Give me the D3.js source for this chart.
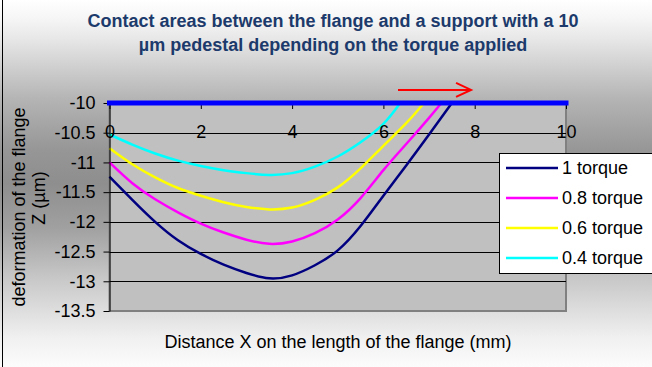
<!DOCTYPE html>
<html>
<head>
<meta charset="utf-8">
<script src="https://cdn.jsdelivr.net/npm/d3@7"></script>
<style>
  body { margin: 0; background: #fff; }
  svg { display: block; }
  text { font-family: "Liberation Sans", Arial, sans-serif; }
</style>
</head>
<body>
<svg id="chart" width="652" height="367"></svg>
<script>
// Axis ticks
const xTicks = [0, 2, 4, 6, 8, 10];
const yTicks = [-10, -10.5, -11, -11.5, -12, -12.5, -13, -13.5];

// Legend labels
const seriesNames = ["1 torque", "0.8 torque", "0.6 torque", "0.4 torque"];

// Deformation profiles, X in mm, Z in µm
const xTorque10 = [0, 0.5, 1, 1.5, 2, 2.5, 3, 3.5, 4, 4.5, 5, 5.5, 6, 6.5, 7, 7.5];
const zTorque10 = [-11.24, -11.63, -12.0, -12.31, -12.54, -12.72, -12.86, -12.95, -12.9, -12.73, -12.48, -12.07, -11.56, -11.05, -10.53, -10.0];

const xTorque08 = [0, 0.5, 1, 1.5, 2, 2.5, 3, 3.5, 4, 4.5, 5, 5.5, 6, 6.5, 7, 7.27];
const zTorque08 = [-11.0, -11.35, -11.62, -11.84, -12.03, -12.18, -12.3, -12.37, -12.33, -12.19, -11.96, -11.6, -11.13, -10.69, -10.25, -10.0];

const xTorque06 = [0, 0.5, 1, 1.5, 2, 2.5, 3, 3.5, 4, 4.5, 5, 5.5, 6, 6.5, 6.89];
const zTorque06 = [-10.76, -11.03, -11.25, -11.43, -11.56, -11.67, -11.75, -11.79, -11.76, -11.63, -11.42, -11.1, -10.72, -10.34, -10.0];

const xTorque04 = [0, 0.5, 1, 1.5, 2, 2.5, 3, 3.5, 4, 4.5, 5, 5.5, 6, 6.37];
const zTorque04 = [-10.53, -10.7, -10.85, -10.97, -11.06, -11.13, -11.18, -11.21, -11.18, -11.07, -10.9, -10.66, -10.35, -10.0];

// Pedestal level
const pedestalX = [0, 10];
const pedestalZ = [-10, -10];

// Direction arrow (data units)
const arrowX = [6.32, 7.92];
const arrowZ = [-9.78, -9.78];

const colors = ["#000080", "#ff00ff", "#ffff00", "#00ffff"];

const series = [
  { name: seriesNames[0], xs: xTorque10, zs: zTorque10, color: colors[0] },
  { name: seriesNames[1], xs: xTorque08, zs: zTorque08, color: colors[1] },
  { name: seriesNames[2], xs: xTorque06, zs: zTorque06, color: colors[2] },
  { name: seriesNames[3], xs: xTorque04, zs: zTorque04, color: colors[3] }
];

const svg = d3.select("#chart");
const W = 652, H = 367;

// Background gradient
const defs = svg.append("defs");
const grad = defs.append("linearGradient")
  .attr("id", "bg").attr("x1", 0).attr("y1", 0).attr("x2", 0).attr("y2", 1);
[[0, "#ffffff"], [0.05, "#f6f6f6"], [0.11, "#e6e6e6"], [0.27, "#b4b4b4"],
 [0.41, "#969696"], [0.5, "#8e8e8e"], [0.62, "#a0a0a0"], [0.76, "#c8c8c8"],
 [0.84, "#dcdcdc"], [0.92, "#f0f0f0"], [1, "#fcfcfc"]]
  .forEach(([o, c]) => grad.append("stop").attr("offset", o).attr("stop-color", c));

svg.append("rect").attr("width", W).attr("height", H).attr("fill", "url(#bg)");
svg.append("line").attr("x1", 2.5).attr("x2", 2.5).attr("y1", 0).attr("y2", H)
  .attr("stroke", "#000").attr("stroke-width", 1);

const x = d3.scaleLinear().domain([0, 10]).range([109.5, 566]);
const y = d3.scaleLinear().domain([-13.5, -10]).range([311, 103]);

// Plot area
svg.append("rect")
  .attr("x", x(0)).attr("y", y(-10))
  .attr("width", x(10) - x(0)).attr("height", y(-13.5) - y(-10))
  .attr("fill", "#c0c0c0").attr("stroke", "#808080").attr("stroke-width", 2);

// Horizontal gridlines
svg.append("g").selectAll("line")
  .data(yTicks.filter(v => v > -13.5 && v < -10))
  .join("line")
  .attr("x1", x(0)).attr("x2", x(10))
  .attr("y1", d => Math.round(y(d)) + 0.5).attr("y2", d => Math.round(y(d)) + 0.5)
  .attr("stroke", "#000").attr("stroke-width", 1);

// Profiles
const line = d3.line()
  .x(d => x(d[0])).y(d => y(d[1]))
  .curve(d3.curveNatural);

svg.append("g").selectAll("path")
  .data(series.slice().reverse())
  .join("path")
  .attr("d", s => line(s.xs.map((v, i) => [v, s.zs[i]])))
  .attr("fill", "none")
  .attr("stroke", s => s.color)
  .attr("stroke-width", 2.5);

// Axes
const fmt = d => String(d);
const yAxis = svg.append("g")
  .attr("transform", `translate(${x(0)},0)`)
  .call(d3.axisLeft(y).tickValues(yTicks).tickFormat(fmt)
    .tickSize(6).tickSizeOuter(0).tickPadding(8));
const xAxis = svg.append("g")
  .attr("transform", `translate(0,${y(-10)})`)
  .call(d3.axisBottom(x).tickValues(xTicks).tickFormat(fmt)
    .tickSize(6).tickSizeOuter(0).tickPadding(16));
xAxis.select(".domain").remove();
[yAxis, xAxis].forEach(g => {
  g.selectAll("text").attr("font-size", 18).attr("font-family", '"Liberation Sans", Arial, sans-serif').attr("fill", "#000");
  g.selectAll("line").attr("stroke", "#000");
  g.select(".domain").attr("stroke", "#000");
});

// Pedestal line
svg.append("path")
  .attr("d", d3.line().x(d => x(d[0])).y(d => y(d[1]))(pedestalX.map((v, i) => [v, pedestalZ[i]])))
  .attr("stroke", "#0000ff").attr("stroke-width", 5).attr("stroke-linecap", "square").attr("fill", "none");

// Arrow
const ax0 = x(arrowX[0]), ax1 = x(arrowX[1]), ay = y(arrowZ[0]);
svg.append("path")
  .attr("d", `M${ax0},${ay}H${ax1}M${ax1 - 15},${ay - 7}L${ax1},${ay}L${ax1 - 15},${ay + 7}`)
  .attr("stroke", "#ff0000").attr("stroke-width", 2).attr("fill", "none");

// Legend
const lg = svg.append("g");
lg.append("rect").attr("x", 499.5).attr("y", 153.5).attr("width", 160).attr("height", 120)
  .attr("fill", "#fff").attr("stroke", "#000").attr("stroke-width", 1);
series.forEach((s, i) => {
  const ly = 168 + i * 30;
  lg.append("line").attr("x1", 506).attr("x2", 558).attr("y1", ly).attr("y2", ly)
    .attr("stroke", s.color).attr("stroke-width", 2.5);
  lg.append("text").attr("x", 562).attr("y", ly).attr("dy", "0.35em")
    .attr("font-size", 18).attr("fill", "#000").text(s.name);
});

// Titles
const title = svg.append("text").attr("text-anchor", "middle")
  .attr("font-size", 18).attr("font-weight", "bold").attr("fill", "#1c3a6b");
title.append("tspan").attr("x", 333).attr("y", 27).text("Contact areas between the flange and a support with a 10");
title.append("tspan").attr("x", 333).attr("y", 51).text("µm pedestal depending on the torque applied");

svg.append("text").attr("x", 338).attr("y", 348).attr("text-anchor", "middle")
  .attr("font-size", 18).attr("fill", "#000")
  .text("Distance X on the length of the flange (mm)");

svg.append("text").attr("transform", "translate(25,207) rotate(-90)")
  .attr("text-anchor", "middle").attr("font-size", 18).attr("fill", "#000")
  .text("deformation of the flange");
svg.append("text").attr("transform", "translate(45,198) rotate(-90)")
  .attr("text-anchor", "middle").attr("font-size", 18).attr("fill", "#000")
  .text("Z (µm)");
</script>
</body>
</html>
